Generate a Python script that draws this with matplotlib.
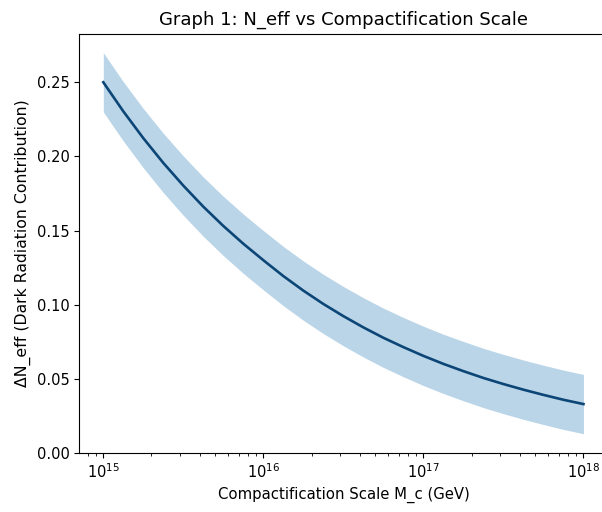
import matplotlib
matplotlib.use("Agg")
import matplotlib.pyplot as plt
import numpy as np

# Compactification scale exponents (M_c = 10**exp GeV), eighth-decade sampling
mc_exp = [15.0, 15.125, 15.25, 15.375, 15.5, 15.625, 15.75, 15.875,
          16.0, 16.125, 16.25, 16.375, 16.5, 16.625, 16.75, 16.875,
          17.0, 17.125, 17.25, 17.375, 17.5, 17.625, 17.75, 17.875, 18.0]
# Central Delta N_eff
delta_neff = [0.2500, 0.2304, 0.2123, 0.1956, 0.1803, 0.1661, 0.1531, 0.1411,
              0.1300, 0.1193, 0.1095, 0.1005, 0.0923, 0.0847, 0.0777, 0.0714,
              0.0655, 0.0601, 0.0552, 0.0506, 0.0465, 0.0427, 0.0392, 0.0359, 0.0330]
# Half-width of the shaded uncertainty band
band_halfwidth = 0.02

mc = np.array([10.0 ** e for e in mc_exp])
y = np.array(delta_neff)

fig = plt.figure(figsize=(6.02, 5.12), dpi=100)
ax = fig.add_axes([0.1317, 0.1152, 0.8774, 0.8193])

ax.fill_between(mc, y - band_halfwidth, y + band_halfwidth,
                color="#1f77b4", alpha=0.3, linewidth=0)
ax.plot(mc, y, color="#0b4677", linewidth=1.9)

ax.set_xscale("log")
ax.set_xlabel("Compactification Scale M_c (GeV)", fontsize=10.7)
ax.set_ylabel("ΔN_eff (Dark Radiation Contribution)", fontsize=11.3)
ax.set_title("Graph 1: N_eff vs Compactification Scale", fontsize=13)
ax.set_yticks([0.00, 0.05, 0.10, 0.15, 0.20, 0.25])
ax.tick_params(axis="both", labelsize=10.5)

fig.savefig("out.png", dpi=100)
